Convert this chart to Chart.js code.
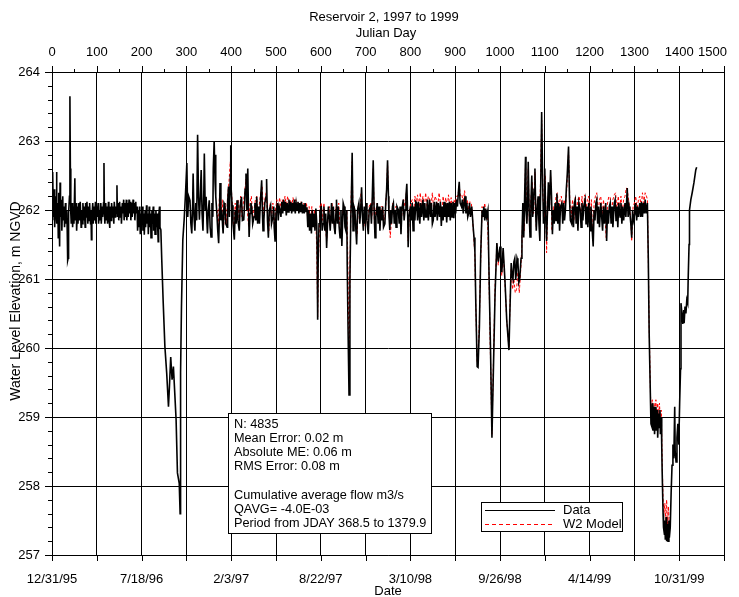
<!DOCTYPE html>
<html>
<head>
<meta charset="utf-8">
<script src="https://cdn.jsdelivr.net/npm/chart.js@4.4.1/dist/chart.umd.min.js"></script>
<style>
  html, body { margin: 0; padding: 0; background: #fff; overflow: hidden; }
  #wrap { position: relative; width: 739px; height: 597px; }
  #levelChart { display: block; }
</style>
</head>
<body>
<div id="wrap"><canvas id="levelChart"></canvas></div>
<script>
const FONT = "'Liberation Sans', Arial, sans-serif";

const CHART_TITLE = "Reservoir 2, 1997 to 1999";
const TOP_AXIS_TITLE = "Julian Day";
const BOTTOM_AXIS_TITLE = "Date";
const Y_AXIS_TITLE = "Water Level Elevation, m NGVD";

// Top axis labels (Julian day) and bottom axis labels (date), both on the same day scale
const DAY_LABELS = ["0", "100", "200", "300", "400", "500", "600", "700", "800", "900", "1000", "1100", "1200", "1300", "1400", "1500"];
const DATE_LABELS = ["12/31/95", "7/18/96", "2/3/97", "8/22/97", "3/10/98", "9/26/98", "4/14/99", "10/31/99"];

const STATS_LINES = [
  "N: 4835",
  "Mean Error: 0.02 m",
  "Absolute ME: 0.06 m",
  "RMS Error: 0.08 m",
  "",
  "Cumulative average flow m3/s",
  "QAVG= -4.0E-03",
  "Period from JDAY 368.5 to 1379.9",
];

const LEGEND_LABELS = ["Data", "W2 Model"];

// Observed water level [julian day, elevation m]
const observed = [
  [0,262.45],[1,261.85],[2,262.55],[3,261.9],[5,262.3],[6,261.75],[7,262.2],[9,261.95],[10,262.55],[11,261.8],
  [13,262.1],[14,261.6],[15,262.25],[17,261.47],[18,262.4],[19,261.9],[21,262.15],[22,261.7],[24,262.2],[25,261.85],
  [27,262.05],[28,261.75],[30,262.1],[31,261.8],[33,262.0],[34,261.7],[35,261.27],[36,261.3],[37,261.95],[39,262.2],
  [40,263.65],[41,262.6],[42,261.95],[43,261.8],[45,262.1],[46,261.75],[48,262.05],[49,261.8],[51,262.46],[52,261.85],
  [54,262.1],[55,261.7],[57,262.05],[58,261.8],[60,262.1],[61,261.85],[63,262.12],[65,261.75],[66,262.0],[68,261.8],
  [69,262.1],[71,261.85],[72,262.05],[74,261.75],[75,262.1],[77,261.9],[78,262.12],[80,261.8],[81,262.05],[83,261.85],
  [84,262.1],[86,261.8],[87,262.0],[88,261.57],[89,261.9],[91,262.1],[92,261.8],[94,262.05],[95,261.85],[97,262.12],
  [98,261.8],[100,262.05],[101,261.9],[103,262.1],[104,261.8],[106,262.0],[107,261.85],[109,262.1],[110,261.8],[112,262.05],
  [113,261.9],[115,262.1],[116,262.68],[117,261.95],[118,261.8],[120,262.1],[121,261.85],[123,262.05],[124,261.8],[126,262.12],
  [127,261.9],[129,261.74],[130,262.05],[132,261.85],[133,262.1],[135,261.9],[136,262.05],[138,261.8],[139,262.12],[141,261.9],
  [142,262.05],[144,261.95],[145,262.36],[146,261.9],[148,262.1],[149,261.85],[151,262.12],[152,261.9],[154,262.05],[155,261.8],
  [157,262.1],[158,261.95],[160,262.15],[161,261.85],[163,262.1],[164,261.9],[166,262.15],[167,261.85],[169,262.1],[170,261.9],
  [172,262.15],[173,261.95],[175,262.12],[176,261.85],[178,262.1],[179,261.9],[181,262.15],[182,261.95],[184,262.1],[185,261.85],
  [187,262.12],[188,261.95],[190,262.05],[191,261.7],[193,262.0],[194,261.75],[196,262.05],[197,261.65],[199,261.95],[200,261.8],
  [202,262.05],[203,261.7],[205,261.95],[206,261.64],[208,262.0],[209,261.75],[211,262.07],[212,261.8],[214,261.95],[215,261.65],
  [217,262.05],[218,261.75],[220,261.95],[221,261.6],[223,262.0],[224,261.8],[226,262.05],[227,261.7],[229,261.95],[230,261.65],
  [232,262.0],[233,261.75],[235,261.95],[237,261.54],[238,261.9],[240,262.05],[241,261.75],[243,261.71],[245,261.28],[248,260.7],
  [252,260.02],[256,259.64],[260,259.15],[262,259.42],[265,259.87],[268,259.54],[271,259.73],[274,259.35],[277,258.96],[280,258.19],
  [284,258.04],[286,257.6],[287,259.64],[289,260.6],[292,261.57],[295,261.86],[298,262.24],[301,262.68],[303,261.9],[305,262.2],
  [308,262.14],[310,261.8],[312,261.66],[314,262.1],[315,262.53],[317,261.9],[319,261.7],[321,262.1],[323,261.85],[325,263.09],
  [327,262.2],[329,261.86],[331,262.2],[333,262.58],[335,261.95],[337,261.7],[339,262.3],[340,262.82],[342,262.0],[344,262.19],
  [346,261.8],[347,261.66],[349,262.0],[351,262.14],[353,261.75],[355,261.61],[357,262.1],[359,261.9],[360,262.6],[362,263.0],
  [364,262.4],[365,262.8],[366,262.2],[368,261.95],[370,261.7],[372,261.52],[374,262.0],[375,262.39],[377,261.85],[379,262.0],
  [381,261.75],[382,261.66],[384,262.1],[386,262.07],[388,261.8],[391,261.75],[392,262.1],[394,262.34],[396,261.9],[398,262.5],
  [399,262.94],[400,262.3],[402,262.07],[404,261.8],[407,261.57],[409,262.0],[411,261.8],[413,262.14],[415,261.85],[418,261.7],
  [420,262.05],[423,262.19],[425,261.85],[428,261.86],[430,262.1],[431,262.3],[433,262.53],[435,262.0],[437,262.6],[438,262.2],
  [440,261.61],[442,261.95],[444,262.1],[446,262.03],[448,261.8],[451,261.9],[453,262.1],[455,261.85],[457,262.19],[459,261.8],
  [461,262.05],[463,261.8],[465,262.1],[468,262.43],[470,261.9],[471,261.7],[473,261.86],[475,262.1],[478,262.2],[479,262.45],
  [481,261.85],[483,261.6],[485,262.0],[488,262.07],[490,261.8],[493,261.9],[495,262.05],[496,261.75],[498,261.54],[500,261.95],
  [503,262.1],[505,261.85],[507,262.05],[509,262.0],[511,261.9],[513,262.12],[515,261.95],[517,262.15],[519,262.0],[521,262.12],
  [523,261.92],[525,262.1],[527,261.97],[529,262.15],[531,262.0],[533,262.12],[535,261.95],[537,262.1],[539,261.98],[541,262.15],
  [543,261.95],[545,262.1],[547,262.0],[549,262.12],[551,261.95],[553,262.1],[555,261.97],[557,262.12],[559,261.95],[561,262.08],
  [563,261.95],[565,262.1],[567,261.98],[569,262.04],[571,261.75],[573,262.0],[575,261.7],[577,261.95],[579,261.66],[581,262.0],
  [583,261.75],[585,261.95],[587,261.7],[589,262.02],[591,261.8],[592,261.3],[593,260.41],[594,261.2],[596,261.8],[598,262.0],
  [600,261.85],[601,262.06],[603,261.7],[605,261.8],[607,262.05],[609,261.7],[611,261.95],[613,261.45],[615,261.8],[617,262.05],
  [619,261.9],[621,261.7],[624,262.1],[626,261.8],[628,262.05],[630,261.75],[632,261.65],[634,262.0],[635,262.15],[637,261.8],
  [639,262.05],[641,261.75],[643,261.6],[645,262.0],[647,261.48],[649,261.9],[650,262.1],[652,262.05],[654,261.75],[656,261.7],
  [658,262.0],[659,261.2],[661,260.2],[663,259.32],[665,261.0],[667,261.9],[668,262.1],[670,262.83],[672,261.7],[674,262.05],
  [676,262.0],[678,261.75],[680,261.5],[682,262.0],[685,262.1],[687,261.8],[689,262.0],[691,262.33],[693,261.9],[695,261.7],
  [697,262.05],[699,261.8],[701,262.1],[703,261.85],[706,261.65],[708,262.0],[711,262.05],[713,261.8],[715,262.2],[717,262.72],
  [719,262.0],[721,261.6],[723,261.9],[726,262.1],[728,261.8],[730,262.05],[732,261.7],[734,262.0],[736,261.85],[738,262.05],
  [740,261.75],[743,261.8],[745,262.1],[747,262.3],[749,262.72],[751,262.2],[752,261.95],[754,261.71],[756,262.0],[758,261.8],
  [760,262.05],[762,262.1],[764,261.8],[766,262.0],[768,261.75],[770,262.05],[773,262.0],[775,261.8],[777,262.05],[779,261.65],
  [781,262.0],[784,262.15],[786,261.85],[788,262.0],[790,262.2],[792,262.38],[794,261.9],[795,261.46],[797,261.9],[800,262.05],
  [802,261.85],[804,262.1],[806,261.7],[808,262.05],[810,261.85],[812,262.12],[814,262.1],[816,261.85],[818,262.12],[821,261.8],
  [823,262.1],[825,261.9],[828,262.15],[830,261.85],[832,262.1],[834,261.9],[836,261.9],[838,262.15],[840,261.85],[843,262.15],
  [845,261.9],[847,262.1],[849,261.8],[851,261.85],[853,262.12],[855,261.9],[858,262.12],[860,261.85],[862,262.1],[865,261.9],
  [867,262.12],[869,261.77],[871,262.05],[873,261.85],[875,262.12],[877,261.9],[879,262.1],[881,261.82],[883,262.1],[885,261.9],
  [887,262.12],[889,261.85],[891,262.1],[893,261.9],[895,262.12],[897,261.88],[899,262.1],[901,261.95],[903,262.15],[905,262.05],
  [907,262.25],[909,262.41],[911,262.1],[914,262.05],[916,262.15],[918,261.95],[920,262.1],[922,262.2],[924,261.95],[926,262.1],
  [928,261.9],[930,261.95],[932,262.1],[934,261.9],[937,262.05],[940,261.76],[942,261.6],[944,261.4],[946,260.65],[949,259.73],
  [951,259.72],[954,260.31],[957,261.37],[960,262.0],[962,261.9],[964,262.05],[966,261.85],[968,262.02],[970,261.9],[973,262.0],
  [976,260.9],[979,259.92],[982,258.7],[985,259.6],[989,260.79],[993,261.52],[996,261.25],[1000,261.47],[1002,261.2],[1004,261.1],
  [1007,261.45],[1011,260.99],[1015,260.41],[1020,259.97],[1022,260.5],[1025,261.23],[1027,261.05],[1029,261.0],[1031,261.25],[1033,261.3],
  [1035,261.0],[1036,261.05],[1038,261.3],[1040,261.25],[1042,260.95],[1044,261.0],[1046,261.2],[1047,261.3],[1049,261.6],[1051,262.1],
  [1053,261.6],[1055,262.2],[1057,262.77],[1058,262.0],[1060,261.8],[1062,262.2],[1063,262.7],[1065,262.0],[1067,261.61],[1069,262.1],
  [1071,262.5],[1073,261.9],[1074,262.0],[1076,262.3],[1078,262.6],[1080,261.9],[1081,261.7],[1083,262.0],[1085,262.2],[1087,261.8],
  [1089,261.55],[1091,262.4],[1093,263.42],[1095,262.5],[1097,261.8],[1099,262.1],[1100,262.6],[1102,261.9],[1104,261.55],[1106,262.0],
  [1108,262.4],[1110,262.0],[1113,262.58],[1115,262.2],[1117,261.65],[1119,262.0],[1121,261.8],[1123,262.1],[1125,261.85],[1127,262.24],
  [1129,261.8],[1131,262.1],[1133,261.7],[1135,262.05],[1138,262.1],[1140,261.8],[1142,262.1],[1144,261.85],[1146,262.0],[1148,262.3],
  [1150,262.5],[1153,262.92],[1155,262.2],[1157,261.85],[1160,261.8],[1162,262.05],[1164,261.75],[1166,262.1],[1168,262.15],[1170,261.8],
  [1172,262.05],[1174,261.7],[1176,262.1],[1179,262.0],[1181,261.75],[1183,262.1],[1185,261.85],[1187,262.05],[1190,262.15],[1192,261.8],
  [1194,262.05],[1196,261.75],[1198,262.1],[1201,261.7],[1203,262.05],[1205,261.8],[1208,261.47],[1210,262.0],[1212,261.85],[1214,262.1],
  [1216,262.15],[1218,261.8],[1220,262.05],[1222,261.75],[1225,262.1],[1227,261.9],[1229,261.7],[1231,262.05],[1233,261.8],[1236,262.1],
  [1238,261.55],[1240,262.0],[1242,261.8],[1244,262.05],[1246,262.1],[1248,261.8],[1250,262.05],[1252,261.75],[1255,262.1],[1257,262.15],
  [1259,261.85],[1261,262.05],[1263,261.75],[1265,262.1],[1268,261.9],[1270,262.1],[1272,261.8],[1274,262.05],[1276,261.85],[1279,262.1],
  [1281,261.9],[1284,262.32],[1286,261.9],[1288,262.05],[1290,261.95],[1292,261.8],[1294,261.6],[1296,262.0],[1298,261.85],[1301,261.95],
  [1303,262.1],[1305,261.85],[1307,262.05],[1309,261.9],[1312,262.1],[1314,261.9],[1316,262.12],[1318,261.9],[1320,262.1],[1322,261.95],
  [1324,262.15],[1326,261.95],[1329,262.1],[1331,261.3],[1333,260.2],[1336,259.2],[1337,258.9],[1339,258.86],[1341,259.2],[1342,258.8],
  [1344,259.15],[1345,258.75],[1346,258.9],[1348,259.15],[1349,258.8],[1351,259.1],[1352,258.7],[1354,259.05],[1355,258.85],[1357,259.1],
  [1358,258.75],[1360,259.0],[1361,258.6],[1362,258.2],[1364,257.6],[1365,257.4],[1367,257.3],[1368,257.5],[1369,257.22],[1371,257.55],
  [1372,257.2],[1374,257.45],[1375,257.2],[1377,257.5],[1378,257.25],[1380,257.4],[1382,257.9],[1384,258.3],[1386,258.6],[1388,258.4],
  [1390,259.15],[1391,258.5],[1393,258.35],[1395,258.7],[1397,258.9],[1399,258.6],[1401,259.2],[1403,259.7],[1404,260.65],[1406,260.5],
  [1408,260.35],[1410,260.55],[1411,260.36],[1413,260.6],[1415,260.5],[1417,260.7],[1419,260.65],[1420,260.99],[1422,261.5],[1423,262.0],
  [1426,262.15],[1429,262.25],[1433,262.4],[1437,262.58],[1439,262.62],
];

// CE-QUAL-W2 model output [julian day, elevation m]
const model = [
  [368.5,262.0],[371,261.7],[374,262.25],[377,261.9],[380,262.15],[383,261.75],[386,262.1],[389,261.8],[392,262.2],[395,262.4],
  [398,262.7],[400,262.35],[403,262.0],[406,261.7],[409,262.1],[412,261.85],[415,262.15],[418,261.8],[421,262.2],[424,261.9],
  [427,262.1],[430,262.25],[433,262.45],[436,262.0],[439,261.75],[442,262.1],[445,262.2],[448,261.9],[451,262.0],[454,262.15],
  [457,262.2],[460,261.9],[463,262.1],[466,262.25],[469,262.35],[472,261.95],[475,262.15],[478,262.25],[481,261.95],[484,261.7],
  [487,262.1],[490,261.9],[493,262.1],[496,261.8],[499,262.0],[502,262.15],[505,262.0],[508,262.18],[511,262.05],[514,262.15],
  [517,262.05],[520,262.2],[523,262.05],[526,262.2],[529,262.1],[532,262.15],[535,262.05],[538,262.18],[541,262.05],[544,262.15],
  [547,262.05],[550,262.12],[553,262.0],[556,262.12],[559,262.0],[562,262.1],[565,262.0],[568,262.1],[571,261.85],[574,262.05],
  [577,261.75],[580,262.05],[583,261.8],[586,262.0],[589,261.85],[591,261.4],[593,260.45],[595,261.3],[598,262.05],[601,262.1],
  [604,261.85],[607,262.1],[610,261.8],[613,261.55],[616,261.9],[619,262.05],[622,261.8],[625,262.1],[628,261.85],[631,261.75],
  [634,262.05],[637,261.85],[640,262.1],[643,261.7],[646,261.6],[649,262.0],[652,262.05],[655,261.8],[658,262.0],[660,261.4],
  [662,260.4],[663.5,259.9],[665,261.0],[667,262.0],[670,262.7],[672,261.9],[675,262.05],[678,261.85],[681,261.65],[684,262.1],
  [687,261.9],[690,262.25],[693,262.0],[696,261.75],[699,262.05],[702,261.9],[705,261.75],[708,262.05],[711,262.1],[714,261.9],
  [717,262.6],[720,261.7],[723,262.0],[726,262.1],[729,261.9],[732,261.8],[735,262.05],[738,262.05],[741,261.85],[744,261.95],
  [747,262.3],[749,262.68],[752,262.05],[755,261.6],[758,261.9],[761,262.1],[764,261.9],[767,262.05],[770,262.05],[773,262.0],
  [776,261.9],[779,261.75],[782,262.05],[785,262.15],[788,262.05],[791,262.25],[793,262.2],[795,261.55],[798,262.0],[801,262.1],
  [804,262.15],[807,261.9],[810,262.2],[813,262.1],[816,262.22],[819,262.0],[822,262.25],[825,262.05],[828,262.2],[831,262.0],
  [834,262.25],[837,262.05],[840,262.2],[843,262.15],[846,262.05],[849,262.25],[852,262.0],[855,262.2],[858,262.15],[861,262.05],
  [864,262.25],[867,262.1],[870,261.9],[873,262.2],[876,262.05],[879,262.18],[882,262.0],[885,262.22],[888,262.05],[891,262.18],
  [894,262.0],[897,262.15],[900,262.1],[903,262.2],[906,262.2],[909,262.35],[912,262.2],[915,262.22],[918,262.1],[921,262.28],
  [924,262.05],[927,262.15],[930,262.0],[933,262.12],[936,262.1],[939,261.85],[942,261.55],[944,261.3],[946,260.6],[949,259.8],
  [951,259.78],[954,260.4],[957,261.3],[960,262.05],[963,261.95],[966,262.1],[969,261.9],[972,261.95],[975,261.2],[978,260.1],
  [982,258.75],[985,259.7],[989,260.9],[993,261.5],[996,261.2],[1000,261.45],[1004,261.05],[1007,261.4],[1011,260.95],[1015,260.4],
  [1020,260.0],[1022,260.55],[1025,261.15],[1028,260.85],[1031,261.0],[1034,260.8],[1037,260.85],[1040,261.1],[1043,260.8],[1046,261.1],
  [1049,261.5],[1051,262.05],[1054,261.7],[1057,262.7],[1060,261.85],[1063,262.6],[1066,261.7],[1069,262.15],[1072,262.4],[1075,261.95],
  [1078,262.55],[1081,261.75],[1084,262.15],[1087,261.85],[1090,262.3],[1093,263.3],[1096,262.2],[1099,261.9],[1101,262.5],[1104,261.38],
  [1107,262.15],[1110,262.05],[1113,262.5],[1116,261.7],[1119,262.05],[1122,261.9],[1125,262.2],[1128,262.25],[1131,261.95],[1134,262.15],
  [1137,262.2],[1140,261.9],[1143,262.15],[1146,262.05],[1149,262.3],[1153,262.85],[1156,262.1],[1159,261.9],[1162,262.15],[1165,261.85],
  [1168,262.2],[1171,261.95],[1174,262.15],[1177,262.2],[1180,261.9],[1183,262.2],[1186,261.95],[1189,262.22],[1192,262.0],[1195,262.15],
  [1198,262.2],[1201,261.85],[1204,262.15],[1207,261.55],[1210,262.1],[1213,262.2],[1216,262.25],[1219,261.95],[1222,262.15],[1225,262.2],
  [1228,261.85],[1231,262.15],[1234,261.95],[1237,261.6],[1240,262.1],[1243,262.2],[1246,262.18],[1249,261.95],[1252,262.15],[1255,262.22],
  [1258,262.25],[1261,262.0],[1264,262.2],[1267,262.0],[1270,262.2],[1273,261.95],[1276,262.15],[1279,262.2],[1282,262.32],[1285,262.25],
  [1288,262.1],[1291,261.95],[1294,261.55],[1297,262.05],[1300,262.1],[1303,262.2],[1306,262.0],[1309,262.15],[1312,262.2],[1315,262.05],
  [1318,262.25],[1321,262.1],[1324,262.25],[1327,262.2],[1329,262.15],[1331,261.3],[1333,260.3],[1336,259.3],[1338,259.05],[1340,259.25],
  [1342,258.95],[1344,259.2],[1346,259.0],[1348,259.25],[1350,258.95],[1352,259.2],[1354,259.0],[1356,259.2],[1358,258.9],[1360,259.1],
  [1362,258.4],[1364,257.8],[1366,257.6],[1368,257.75],[1370,257.5],[1372,257.8],[1374,257.45],[1376,257.7],[1378,257.4],[1379.9,257.55],
];

const toPoints = (rows) => rows.map(([day, level]) => ({ x: day, y: level }));

// Keep the plot box fixed no matter how wide the edge labels are
const fixHeight = (h) => (scale) => {
  scale.height = h;
  scale.paddingLeft = 0;
  scale.paddingRight = 0;
};

// Minor/major tick marks, top labels, titles, stats box and legend
const overlayPlugin = {
  id: "overlay",
  afterDraw(chart) {
    const { ctx, chartArea: area, scales } = chart;
    const xs = scales.x;
    const ys = scales.y;
    const snap = (v) => Math.round(v) + 0.5;

    ctx.save();
    ctx.strokeStyle = "#000";
    ctx.lineWidth = 1;
    ctx.beginPath();
    for (let i = 0; i <= 30; i++) {
      const px = snap(xs.getPixelForValue(i * 50));
      const major = i % 2 === 0;
      ctx.moveTo(px, area.top);
      ctx.lineTo(px, area.top - (major ? 6 : 3));
      if (major) {
        ctx.moveTo(px, area.bottom);
        ctx.lineTo(px, area.bottom + 6);
      }
    }
    for (let i = 0; i <= 35; i++) {
      const py = snap(ys.getPixelForValue(257 + i / 5));
      ctx.moveTo(area.left, py);
      ctx.lineTo(area.left - (i % 5 === 0 ? 7 : 4), py);
    }
    ctx.stroke();

    ctx.fillStyle = "#000";
    ctx.textBaseline = "middle";
    ctx.font = `13px ${FONT}`;

    // Julian day labels along the top; the last one ends just past the plot edge
    ctx.textAlign = "left";
    DAY_LABELS.forEach((label, i) => {
      const w = ctx.measureText(label).width;
      const cx = Math.min(xs.getPixelForValue(i * 100), area.right + 3 - w / 2);
      ctx.fillText(label, cx - w / 2, 52);
    });

    // titles
    ctx.textAlign = "center";
    const midX = (area.left + area.right) / 2;
    ctx.fillText(CHART_TITLE, midX - 4, 17);
    ctx.fillText(TOP_AXIS_TITLE, midX - 2, 33);
    ctx.fillText(BOTTOM_AXIS_TITLE, midX, 591);
    ctx.save();
    ctx.translate(16, 301);
    ctx.rotate(-Math.PI / 2);
    ctx.font = `14px ${FONT}`;
    ctx.fillText(Y_AXIS_TITLE, 0, 0);
    ctx.restore();

    // statistics box
    ctx.font = `12.7px ${FONT}`;
    ctx.fillStyle = "#fff";
    ctx.fillRect(228, 413, 203, 120);
    ctx.strokeRect(228.5, 413.5, 203, 120);
    ctx.fillStyle = "#000";
    ctx.textAlign = "left";
    STATS_LINES.forEach((line, i) => {
      ctx.fillText(line, 234, 424 + i * 14.2);
    });

    // legend box
    ctx.font = `13px ${FONT}`;
    ctx.fillStyle = "#fff";
    ctx.fillRect(481, 502, 141, 29);
    ctx.strokeRect(481.5, 502.5, 141, 29);
    ctx.beginPath();
    ctx.moveTo(485, 510.5);
    ctx.lineTo(555, 510.5);
    ctx.stroke();
    ctx.strokeStyle = "#ff0000";
    ctx.setLineDash([4, 3]);
    ctx.beginPath();
    ctx.moveTo(485, 524.5);
    ctx.lineTo(555, 524.5);
    ctx.stroke();
    ctx.setLineDash([]);
    ctx.fillStyle = "#000";
    ctx.fillText(LEGEND_LABELS[0], 563, 510);
    ctx.fillText(LEGEND_LABELS[1], 563, 524);
    ctx.restore();
  },
};

const tickFont = { family: FONT, size: 13 };

new Chart(document.getElementById("levelChart"), {
  type: "line",
  data: {
    datasets: [
      {
        label: LEGEND_LABELS[0],
        data: toPoints(observed),
        borderColor: "#000000",
        borderWidth: 1.6,
        pointRadius: 0,
        tension: 0,
      },
      {
        label: LEGEND_LABELS[1],
        data: toPoints(model),
        borderColor: "#ff0000",
        borderWidth: 1,
        borderDash: [3, 2],
        pointRadius: 0,
        tension: 0,
      },
    ],
  },
  options: {
    responsive: true,
    maintainAspectRatio: false,
    animation: false,
    layout: { padding: { right: 15 } },
    plugins: {
      legend: { display: false },
      tooltip: { enabled: false },
    },
    scales: {
      x: {
        type: "linear",
        position: "bottom",
        min: 0,
        max: 1500,
        afterFit: fixHeight(42),
        ticks: {
          stepSize: 100,
          autoSkip: false,
          maxRotation: 0,
          padding: 17,
          color: "#000",
          font: tickFont,
          callback: (value) => (value % 200 === 0 ? DATE_LABELS[value / 200] : ""),
        },
        grid: { color: "#000", drawTicks: false },
        border: { color: "#000" },
      },
      xTop: {
        type: "linear",
        position: "top",
        min: 0,
        max: 1500,
        afterFit: fixHeight(72),
        ticks: { display: false },
        grid: { display: false, drawTicks: false },
        border: { color: "#000" },
      },
      y: {
        min: 257,
        max: 264,
        afterFit: (scale) => {
          scale.width = 52;
          scale.paddingTop = 0;
          scale.paddingBottom = 0;
        },
        ticks: {
          stepSize: 1,
          padding: 12,
          color: "#000",
          font: tickFont,
        },
        grid: { color: "#000", drawTicks: false },
        border: { color: "#000" },
      },
    },
  },
  plugins: [overlayPlugin],
});
</script>
</body>
</html>
